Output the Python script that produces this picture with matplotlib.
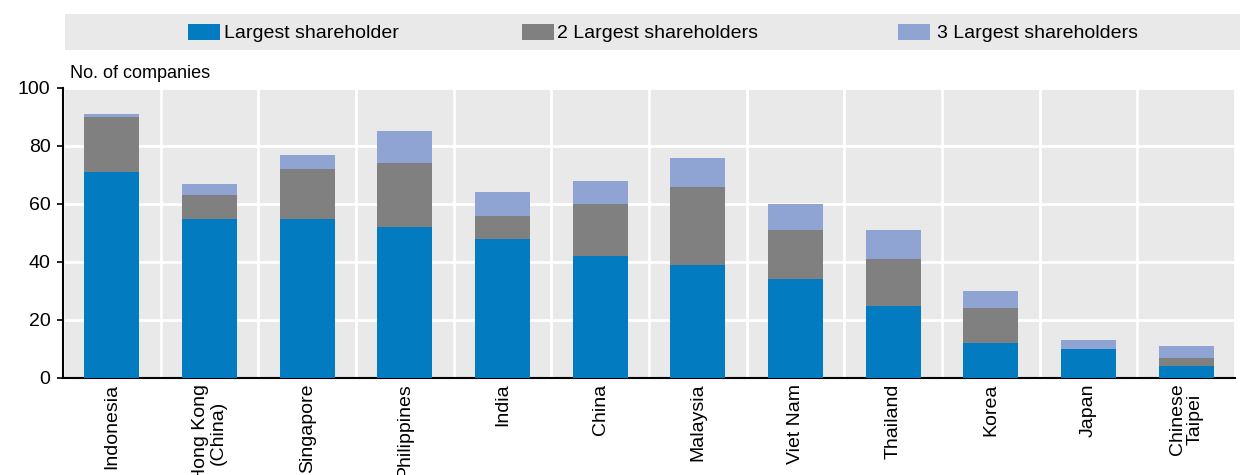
import numpy as np
import matplotlib
matplotlib.use("Agg")
import matplotlib.pyplot as plt
from matplotlib.patches import Rectangle

countries = ["Indonesia", "Hong Kong\n(China)", "Singapore", "Philippines", "India", "China",
             "Malaysia", "Viet Nam", "Thailand", "Korea", "Japan", "Chinese\nTaipei"]
largest = [71, 55, 55, 52, 48, 42, 39, 34, 25, 12, 10, 4]
second = [19, 8, 17, 22, 8, 18, 27, 17, 16, 12, 0, 3]
third = [1, 4, 5, 11, 8, 8, 10, 9, 10, 6, 3, 4]

series_names = ["Largest shareholder", "2 Largest shareholders", "3 Largest shareholders"]
colors = ["#037BC1", "#808080", "#8FA4D2"]

plt.rcParams["font.family"] = ["Liberation Sans Narrow", "Liberation Sans", "DejaVu Sans"]

fig = plt.figure(figsize=(12.4, 4.75), dpi=100)
ax = fig.add_axes([63 / 1240, 1 - 378 / 475, (1235 - 63) / 1240, (378 - 88) / 475])

x = np.arange(len(countries))
l1 = np.array(largest)
l2 = np.array(second)
l3 = np.array(third)
w = 0.56
ax.bar(x, l1, w, color=colors[0], zorder=3)
ax.bar(x, l2, w, bottom=l1, color=colors[1], zorder=3)
ax.bar(x, l3, w, bottom=l1 + l2, color=colors[2], zorder=3)

ax.set_facecolor("#E9E9E9")
ax.set_xlim(-0.5, len(countries) - 0.5)
ax.set_ylim(0, 100)
ax.set_yticks(range(0, 101, 20))
ax.tick_params(axis="y", labelsize=14, length=4, width=1.2, pad=5)
ax.set_xticks(x)
ax.set_xticklabels(countries, rotation=90, fontsize=14, family=["Liberation Sans", "DejaVu Sans"],
                   linespacing=1.05)
ax.tick_params(axis="x", length=0, pad=4)

ax.set_xticks(np.arange(len(countries) + 1) - 0.5, minor=True)
ax.grid(True, axis="y", color="white", lw=2, zorder=1)
ax.grid(True, axis="x", which="minor", color="white", lw=2, zorder=1)
ax.tick_params(axis="x", which="minor", length=0)

for s in ["top", "right"]:
    ax.spines[s].set_visible(False)
ax.spines["left"].set_linewidth(1.5)
ax.spines["bottom"].set_linewidth(1.5)

fig.text(70 / 1240, 1 - 73 / 475, "No. of companies", fontsize=13, va="center", ha="left")

# legend band
fig.add_artist(Rectangle((65 / 1240, 1 - 50 / 475), (1240 - 65) / 1240, 36 / 475,
                         transform=fig.transFigure, facecolor="#E9E9E9", edgecolor="none"))
patch_x = [188, 522, 898]
text_x = [224, 557, 937]
for px, tx, c, name in zip(patch_x, text_x, colors, series_names):
    fig.add_artist(Rectangle((px / 1240, 1 - 40 / 475), 32 / 1240, 16 / 475,
                             transform=fig.transFigure, facecolor=c, edgecolor="none"))
    fig.text(tx / 1240, 1 - 34 / 475, name, fontsize=14, va="center", ha="left")

fig.savefig("out.png", dpi=100)
